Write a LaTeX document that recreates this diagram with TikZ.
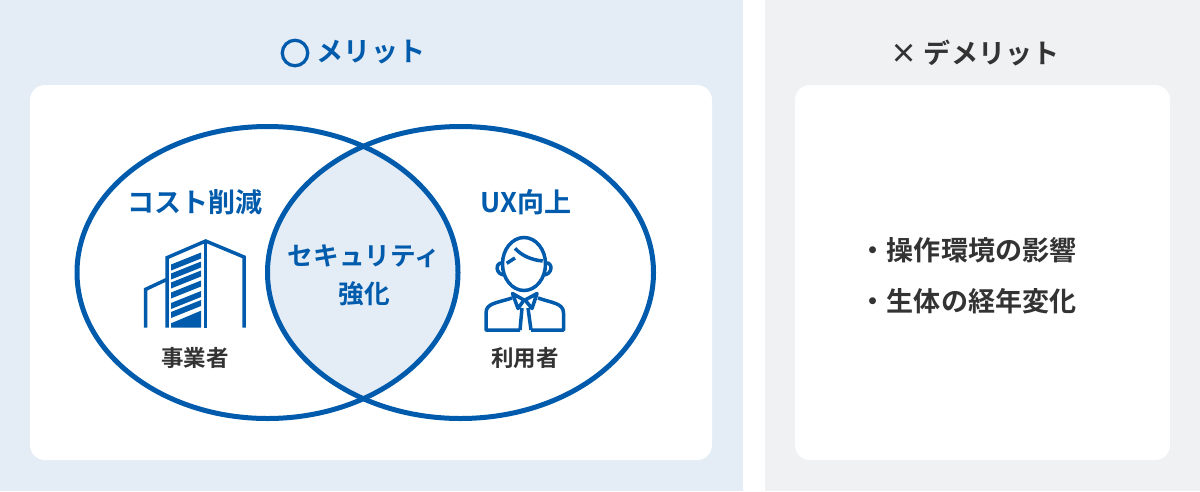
\documentclass[tikz,border=0pt]{standalone}
\usepackage{fontspec}
\setmainfont{Noto Sans CJK JP}[BoldFont={Noto Sans CJK JP Bold}]
\usetikzlibrary{positioning}
\definecolor{meritblue}{HTML}{005BAC}
\definecolor{meritbg}{HTML}{E4ECF6}
\definecolor{demeritbg}{HTML}{F0F1F3}
\definecolor{darktext}{HTML}{333333}
\tikzset{
    x=0.02cm, y=-0.02cm,
    card/.style={fill=white, rounded corners=0.3cm},
    bigtext/.style={font=\bfseries\fontsize{15.4pt}{18pt}\selectfont, inner sep=0pt},
    smalltext/.style={font=\bfseries\fontsize{12.8pt}{15pt}\selectfont, inner sep=0pt, text=darktext},
    ring/.style={draw=meritblue, line width=0.1cm},
    icon/.style={draw=meritblue, line width=0.07cm}
}
\begin{document}
\begin{tikzpicture}
    \useasboundingbox (0,0) rectangle (1200,491);

    % Panels
    \fill[meritbg] (0,0) rectangle (743,490.5);
    \fill[demeritbg] (765,0) rectangle (1200,490.5);
    \fill[card] (30,85) rectangle (712,460);
    \fill[card] (795,85) rectangle (1170,460);

    % Titles
    \node[circle, draw=meritblue, line width=0.065cm, minimum size=0.51cm, inner sep=0pt] (okmark) at (295,53) {};
    \node[bigtext, text=meritblue] (oktitle) at (371,52.5) {メリット};
    \node[bigtext, text=darktext] (ngtitle) at (975,52.5) {× デメリット};

    % Venn diagram
    \begin{scope}
        \clip (267.5,272.5) ellipse (190.5 and 146);
        \fill[meritbg] (460.5,272.5) ellipse (193 and 146);
    \end{scope}
    \draw[ring] (267.5,272.5) ellipse (190.5 and 146);
    \draw[ring] (460.5,272.5) ellipse (193 and 146);

    \node[bigtext, text=meritblue] (costlabel) at (195,202) {コスト削減};
    \node[bigtext, text=meritblue] (uxlabel) at (526,202) {UX向上};
    \node[bigtext, text=meritblue, align=center, font=\bfseries\fontsize{14.6pt}{18pt}\selectfont] (securitylabel) at (364,275.5) {セキュリティ\\[3.5pt]強化};
    \node[smalltext] (bizlabel) at (195,358) {事業者};
    \node[smalltext] (userlabel) at (525,358) {利用者};

    % Building
    \draw[icon] (167,327.5) -- (167,257.7) -- (205.7,241) -- (244,257) -- (244,327.5);
    \draw[icon] (205.7,241) -- (205.7,327.5);
    \draw[icon] (145.7,327.5) -- (145.7,289.3) -- (167,279.3);
    \foreach \louv in {264.5,273.5,282.5,292.5,303,312} {
        \fill[meritblue] (171,\louv) -- (201,\louv-12) -- (201,\louv-6) -- (171,\louv+6) -- cycle;
    }
    \fill[meritblue] (171,323.3) -- (201,310.7) -- (201,327.5) -- (171,327.5) -- cycle;

    % User
    \draw[icon, fill=white] (502.5,263) .. controls (495,262) and (495,275) .. (505,275);
    \draw[icon, fill=white] (546,263) .. controls (553,262) and (553,275) .. (543,275);
    \draw[icon, fill=white] (524,264) ellipse (21.5 and 26.5);
    \draw[icon] (515,248.3) .. controls (522,256) and (532,260) .. (542.7,261);
    \draw[icon] (506.7,263.3) -- (515,258);
    \draw[icon, line join=round] (520,330) -- (486,330) -- (486,313) .. controls (486,303) and (497,303) .. (512,298);
    \draw[icon, line join=round] (531,330) -- (563.5,330) -- (563.5,313) .. controls (563.5,303) and (552,303) .. (538,298);
    \draw[icon, line join=round] (512.5,293.5) -- (524,300) -- (518,308.5) -- cycle;
    \draw[icon, line join=round] (537,293.5) -- (525,300) -- (532,308.5) -- cycle;
    \draw[icon] (522,308) -- (520,330);
    \draw[icon] (528,308) -- (531,330);

    % Demerit list
    \node[bigtext, text=darktext, anchor=west] (envlabel) at (859.5,250) {・操作環境の影響};
    \node[bigtext, text=darktext, anchor=west] (agelabel) at (859.5,301) {・生体の経年変化};
\end{tikzpicture}
\end{document}
